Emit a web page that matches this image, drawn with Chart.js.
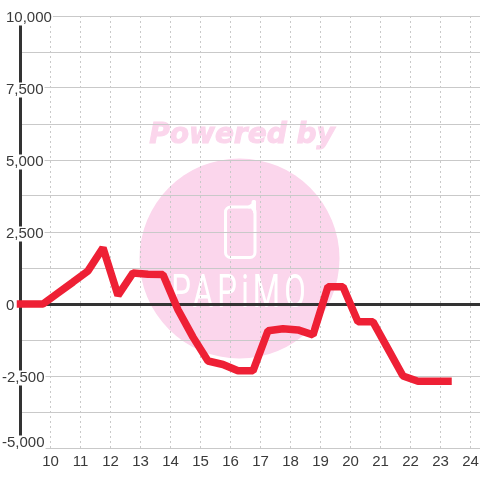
<!DOCTYPE html>
<html>
<head>
<meta charset="utf-8">
<title>Chart</title>
<script src="https://cdn.jsdelivr.net/npm/chart.js@4"></script>
<style>
  html, body { margin: 0; padding: 0; background: #fff; }
  #wrap { width: 480px; height: 480px; }
</style>
</head>
<body>
<div id="wrap"><canvas id="chart" width="480" height="480"></canvas></div>
<script>
// hour of day, half hour steps
const hours = [9, 9.75, 10.25, 10.75, 11.25, 11.75, 12.25, 12.75, 13.25, 13.75, 14.25, 14.75, 15.25, 15.75, 16.25, 16.75, 17.25, 17.75, 18.25, 18.75, 19.25, 19.75, 20.25, 20.75, 21.25, 21.75, 22.25, 22.75, 23.25];
const values = [0, 0, 380, 760, 1150, 1950, 300, 1080, 1030, 1020, -200, -1150, -1980, -2100, -2320, -2320, -930, -860, -900, -1070, 600, 600, -620, -620, -1560, -2500, -2680, -2680, -2680];

const xTicks = [10, 11, 12, 13, 14, 15, 16, 17, 18, 19, 20, 21, 22, 23, 24];
const yTicks = [-5000, -3750, -2500, -1250, 0, 1250, 2500, 3750, 5000, 6250, 7500, 8750, 10000];
const yLabels = { '10000': '10,000', '7500': '7,500', '5000': '5,000', '2500': '2,500', '0': '0', '-2500': '-2,500', '-5000': '-5,000' };

const FONT = '15px "Liberation Sans", Arial, sans-serif';
const TEXT = '#3a3a3a';
const GRID = '#c9c9c9';
const AXIS = '#333333';

// watermark sits behind the grid
const watermark = {
  id: 'watermark',
  beforeDraw(chart) {
    const c = chart.ctx;
    c.save();
    c.fillStyle = '#fbd6ec';
    c.beginPath();
    c.arc(239.5, 258.5, 100, 0, Math.PI * 2);
    c.fill();

    c.font = 'italic bold 28px "DejaVu Sans", sans-serif';
    c.textAlign = 'center';
    c.textBaseline = 'middle';
    c.strokeStyle = '#fbd6ec';
    c.lineWidth = 1;
    c.strokeText('Powered by', 242, 136);
    c.fillText('Powered by', 242, 136);

    // phone outline
    c.strokeStyle = '#fff';
    c.lineWidth = 3;
    c.lineCap = 'round';
    c.beginPath();
    c.roundRect(225.5, 207, 29.5, 50.5, 5);
    c.stroke();
    c.beginPath();
    c.moveTo(254.5, 201.5);
    c.lineTo(254.5, 212);
    c.moveTo(249, 207);
    c.lineTo(252, 205);
    c.stroke();
    c.lineWidth = 4;
    c.beginPath();
    c.moveTo(253.5, 202);
    c.lineTo(253.5, 209);
    c.stroke();

    // logo lettering, squeezed to the narrow boxy look
    c.fillStyle = '#fff';
    c.font = '400 46px Roboto, sans-serif';
    c.letterSpacing = '6px';
    c.textBaseline = 'alphabetic';
    c.translate(240.5, 307);
    c.scale(0.68, 1);
    c.fillText('PAPiMO', 0, 0);
    c.restore();
  }
};

// y labels hang off the axis, each with a white box behind it
const yAxisLabels = {
  id: 'yAxisLabels',
  beforeDatasetsDraw(chart) {
    const c = chart.ctx;
    const y = chart.scales.y;
    c.save();
    c.font = FONT;
    c.textBaseline = 'middle';
    c.textAlign = 'left';
    yTicks.forEach(v => {
      const text = yLabels[v];
      if (!text) return;
      const left = v < 0 ? 2 : 6;
      const w = c.measureText(text).width;
      let py = y.getPixelForValue(v) + 1.5;
      if (v === yTicks[0]) py -= 7;
      c.fillStyle = '#fff';
      c.fillRect(left - 1, py - 7, w + 2, 15);
      c.fillStyle = TEXT;
      c.fillText(text, left, py);
    });
    c.restore();
  }
};

new Chart(document.getElementById('chart'), {
  type: 'line',
  data: {
    labels: hours,
    datasets: [{
      data: hours.map((h, i) => ({ x: h, y: values[i] })),
      borderColor: '#ee2035',
      borderWidth: 7.5,
      borderCapStyle: 'square',
      borderJoinStyle: 'bevel',
      pointRadius: 0,
      tension: 0,
      fill: false,
      clip: false
    }]
  },
  options: {
    responsive: false,
    animation: false,
    layout: { padding: { top: 16, left: 0, right: 0, bottom: 0 } },
    plugins: { legend: { display: false }, tooltip: { enabled: false } },
    scales: {
      x: {
        type: 'linear',
        min: 9,
        max: 24.317,
        afterBuildTicks(scale) {
          scale.ticks = xTicks.map(v => ({ value: v }));
        },
        afterFit(scale) {
          scale.height = 32;
          scale.paddingLeft = 0;
          scale.paddingRight = 0;
        },
        grid: { color: GRID, lineWidth: 1, drawTicks: false, tickLength: 0 },
        border: { display: false, dash: [2, 3] },
        ticks: { color: TEXT, font: { family: '"Liberation Sans", Arial, sans-serif', size: 15 }, padding: 5, maxRotation: 0, autoSkip: false }
      },
      y: {
        min: -5000,
        max: 10000,
        afterBuildTicks(scale) {
          scale.ticks = yTicks.map(v => ({ value: v }));
        },
        afterFit(scale) {
          scale.width = 20.5;
          scale.paddingTop = 0;
          scale.paddingBottom = 0;
        },
        grid: {
          color: ctx => (ctx.tick && ctx.tick.value === 0 ? AXIS : GRID),
          lineWidth: ctx => (ctx.tick && ctx.tick.value === 0 ? 3 : 1),
          drawTicks: false
        },
        border: { display: true, color: AXIS, width: 3 },
        ticks: { display: false }
      }
    }
  },
  plugins: [watermark, yAxisLabels]
});
</script>
</body>
</html>
